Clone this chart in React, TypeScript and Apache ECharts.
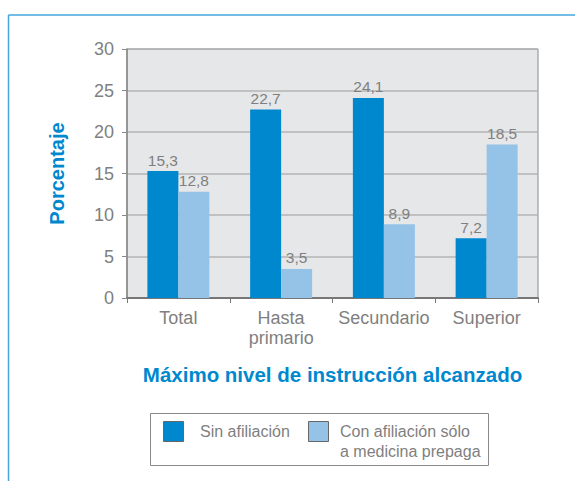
import React, { useEffect, useRef } from "react";
import * as echarts from "echarts";

const categories = ["Total", "Hasta\nprimario", "Secundario", "Superior"];
const seriesNames = ["Sin afiliación", "Con afiliación sólo\na medicina prepaga"];
const sinAfiliacion = [15.3, 22.7, 24.1, 7.2];
const conPrepaga = [12.8, 3.5, 8.9, 18.5];
const colors = ["#0088cf", "#95c3e8"];
const yAxisTitle = "Porcentaje";
const xAxisTitle = "Máximo nivel de instrucción alcanzado";

const FONT = "'Liberation Sans', Arial, sans-serif";
const GRAY = "#7f7f7f";

export default function App() {
  const ref = useRef<HTMLDivElement>(null);
  useEffect(() => {
    if (!ref.current) return;
    const chart = echarts.init(ref.current, null, { renderer: "svg" });
    const fmt = (p: any) => String(p.value).replace(".", ",");
    const labelCfg = {
      show: true,
      position: "top",
      distance: 3,
      color: GRAY,
      fontSize: 15.5,
      fontFamily: FONT,
      formatter: fmt,
    };
    chart.setOption({
      animation: false,
      backgroundColor: "#ffffff",
      textStyle: { fontFamily: FONT },
      grid: {
        left: 127,
        right: 37,
        top: 49,
        bottom: 183,
        show: true,
        backgroundColor: "#e6e7e9",
        borderColor: "#8a8a8a",
        borderWidth: 1,
      },
      xAxis: {
        type: "category",
        data: categories,
        name: xAxisTitle,
        nameLocation: "middle",
        nameGap: 66,
        nameTextStyle: {
          color: "#0088cf",
          fontSize: 20.5,
          fontWeight: "bold",
          fontFamily: FONT,
        },
        axisLine: { show: true, lineStyle: { color: "#777", width: 2 } },
        axisTick: { show: true, length: 5, alignWithLabel: false, lineStyle: { color: "#777" } },
        axisLabel: {
          color: GRAY,
          fontSize: 18,
          fontFamily: FONT,
          margin: 10,
          lineHeight: 20,
          interval: 0,
        },
      },
      yAxis: {
        type: "value",
        min: 0,
        max: 30,
        interval: 5,
        name: yAxisTitle,
        nameLocation: "middle",
        nameGap: 60,
        nameTextStyle: {
          color: "#0088cf",
          fontSize: 20,
          fontWeight: "bold",
          fontFamily: FONT,
        },
        axisLine: { show: true, lineStyle: { color: "#888", width: 1.5 } },
        axisTick: { show: true, length: 5, lineStyle: { color: "#888" } },
        axisLabel: { color: GRAY, fontSize: 18, fontFamily: FONT, margin: 13 },
        splitLine: { show: true, lineStyle: { color: "#b5b5b5", width: 1.5 } },
      },
      series: [
        {
          name: seriesNames[0],
          type: "bar",
          data: sinAfiliacion,
          barWidth: 31,
          barGap: "0%",
          itemStyle: { color: colors[0] },
          label: labelCfg,
        },
        {
          name: seriesNames[1],
          type: "bar",
          data: conPrepaga,
          barWidth: 31,
          barGap: "0%",
          itemStyle: { color: colors[1] },
          label: labelCfg,
        },
      ],
      graphic: [
        {
          type: "line",
          shape: { x1: 8.5, y1: 15, x2: 575, y2: 15 },
          style: { stroke: "#45a6db", lineWidth: 1.5 },
        },
        {
          type: "line",
          shape: { x1: 8.5, y1: 15, x2: 8.5, y2: 481 },
          style: { stroke: "#45a6db", lineWidth: 1.5 },
        },
        {
          type: "rect",
          shape: { x: 150.5, y: 413.5, width: 338, height: 52 },
          style: { fill: "#ffffff", stroke: "#888", lineWidth: 1 },
        },
        {
          type: "rect",
          shape: { x: 163.5, y: 421.5, width: 20, height: 20 },
          style: { fill: colors[0], stroke: "#666", lineWidth: 1 },
        },
        {
          type: "text",
          x: 200,
          y: 431,
          style: {
            text: seriesNames[0],
            fill: GRAY,
            fontSize: 16,
            fontFamily: FONT,
            verticalAlign: "middle",
          },
        },
        {
          type: "rect",
          shape: { x: 308.5, y: 421.5, width: 20, height: 20 },
          style: { fill: colors[1], stroke: "#666", lineWidth: 1 },
        },
        {
          type: "text",
          x: 340,
          y: 421,
          style: {
            text: seriesNames[1],
            fill: GRAY,
            fontSize: 16,
            fontFamily: FONT,
            lineHeight: 20,
            verticalAlign: "top",
          },
        },
      ],
    });
    return () => chart.dispose();
  }, []);
  return (
    <div
      ref={ref}
      style={{ position: "fixed", left: 0, top: 0, width: 575, height: 481 }}
    />
  );
}
